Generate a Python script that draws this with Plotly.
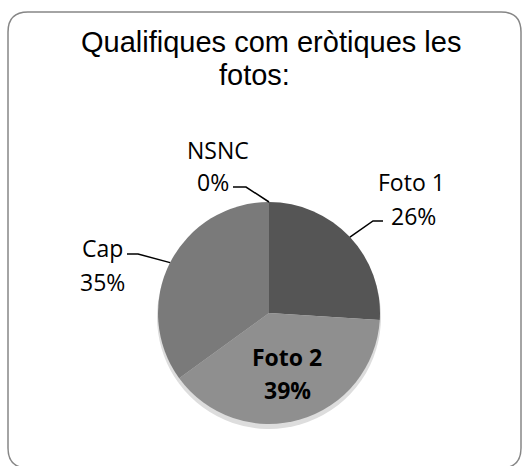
import math
import plotly.graph_objects as go

# chart data
labels = ["Foto 1", "Foto 2", "Cap", "NSNC"]
values = [26, 39, 35, 0]
colors = ["#555555", "#8f8f8f", "#7a7a7a", "#6a6a6a"]
title_lines = ["Qualifiques com eròtiques les", "fotos:"]

W, H = 523, 466
CX, CY, R = 269, 313, 111  # pie centre / radius in pixels


def px(x, y):
    # pixel -> paper coords
    return x / W, 1 - y / H


total = float(sum(values))
pcts = [round(100 * v / total) for v in values]

fig = go.Figure()

# soft shadow under the pie
fig.add_trace(go.Pie(
    values=values, sort=False, direction="clockwise", rotation=0,
    marker=dict(colors=["#dddddd"] * len(values), line=dict(width=0)),
    textinfo="none", hoverinfo="skip", showlegend=False,
    domain=dict(x=[(CX - R - 1) / W, (CX + R + 1) / W],
                y=[1 - (CY + R + 5) / H, 1 - (CY - R + 3) / H]),
))

fig.add_trace(go.Pie(
    labels=labels, values=values, sort=False, direction="clockwise", rotation=0,
    marker=dict(colors=colors, line=dict(width=0)),
    textinfo="none", showlegend=False,
    domain=dict(x=[(CX - R) / W, (CX + R) / W], y=[1 - (CY + R) / H, 1 - (CY - R) / H]),
))

# mid angle of each slice (degrees clockwise from top)
mids = []
acc = 0
for v in values:
    mids.append(360 * (acc + v / 2) / total)
    acc += v

# label placement: (name centre, pct centre, elbow, end) in pixels
place = {
    "Foto 1": ((411, 182), (413, 216), (373, 221), (383, 221)),
    "Cap": ((102, 248), (102, 282), (138, 254), (127, 254)),
    "NSNC": ((218, 150), (213, 182), (246, 187), (233, 187)),
}

lab_font = dict(family="Open Sans", size=23, color="#000000")
annotations = []
shapes = []

for lab, pct, mid in zip(labels, pcts, mids):
    if lab == "Foto 2":
        # bold label inside the slice
        for txt, pos in ((lab, (287, 357)), (f"{pct}%", (287, 390))):
            x, y = px(*pos)
            annotations.append(dict(x=x, y=y, xref="paper", yref="paper", text=f"<b>{txt}</b>",
                                    showarrow=False, font=lab_font, xanchor="center", yanchor="middle"))
        continue
    npos, ppos, elbow, end = place[lab]
    for txt, pos in ((lab, npos), (f"{pct}%", ppos)):
        x, y = px(*pos)
        annotations.append(dict(x=x, y=y, xref="paper", yref="paper", text=txt,
                                showarrow=False, font=lab_font, xanchor="center", yanchor="middle"))
    a = math.radians(mid)
    sx, sy = CX + R * math.sin(a), CY - R * math.cos(a)
    pts = [px(sx, sy), px(*elbow), px(*end)]
    path = "M {} {} L {} {} L {} {}".format(*[c for p in pts for c in p])
    shapes.append(dict(type="path", xref="paper", yref="paper", path=path,
                       line=dict(color="#000000", width=1.5)))

# title
for txt, pos in zip(title_lines, ((271, 42), (254, 75))):
    x, y = px(*pos)
    annotations.append(dict(x=x, y=y, xref="paper", yref="paper", text=txt, showarrow=False,
                            font=dict(family="Liberation Sans", size=29, color="#000000"),
                            xanchor="center", yanchor="middle"))

# rounded frame (bottom edge runs just off the window)
x0, y0, x1, y1, r = 8, 12, 521, 468, 20
frame = [
    ("M", (x0 + r, y0)), ("L", (x1 - r, y0)), ("Q", (x1, y0), (x1, y0 + r)),
    ("L", (x1, y1 - r)), ("Q", (x1, y1), (x1 - r, y1)), ("L", (x0 + r, y1)),
    ("Q", (x0, y1), (x0, y1 - r)), ("L", (x0, y0 + r)), ("Q", (x0, y0), (x0 + r, y0)),
]
path = ""
for item in frame:
    path += item[0] + " " + " ".join("{} {}".format(*px(*p)) for p in item[1:]) + " "
shapes.append(dict(type="path", xref="paper", yref="paper", path=path + "Z",
                   line=dict(color="#868686", width=1.5)))

fig.update_layout(
    width=W, height=H, margin=dict(l=0, r=0, t=0, b=0),
    paper_bgcolor="#ffffff", plot_bgcolor="#ffffff",
    annotations=annotations, shapes=shapes,
)

# drop the default page margin so the chart sits at the window's corner
fig.write_html("out.html", config={"displayModeBar": False},
               post_script="document.body.style.margin='0';")
